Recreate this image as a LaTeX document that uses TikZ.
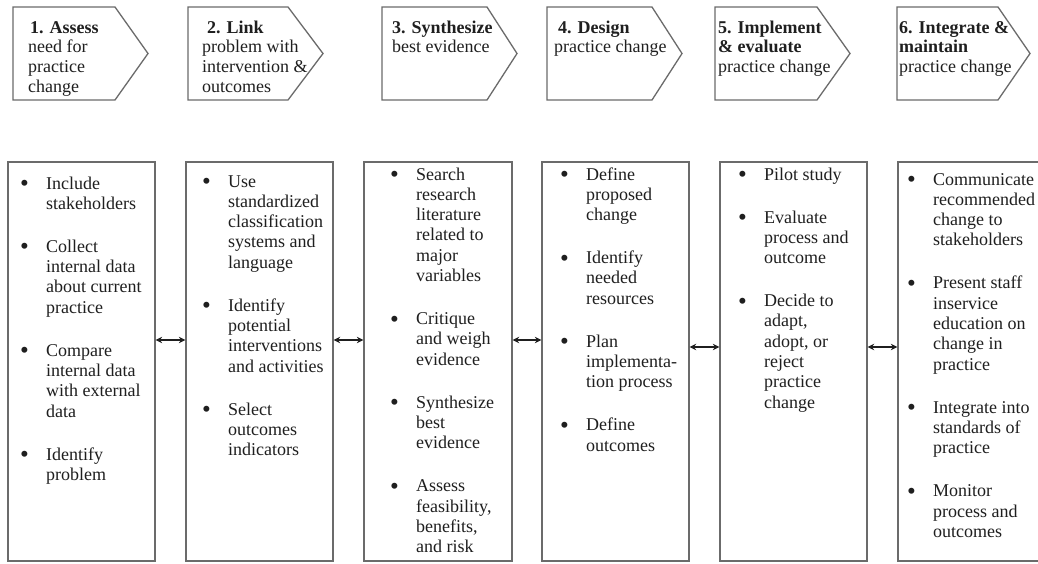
\documentclass[tikz,border=0pt]{standalone}
\usepackage{fontspec}
\setmainfont{Liberation Serif}
\usepackage{array}
\usetikzlibrary{arrows.meta}
\definecolor{ln}{gray}{0.42}
\definecolor{tx}{gray}{0.12}
\newcommand\bul{\raisebox{-2.6pt}{\fontsize{25}{25}\selectfont\textbullet}}
\newcommand\hdr[1]{\fontsize{18}{19.8}\selectfont\begin{tabular}[t]{@{}l@{}}#1\end{tabular}}
\newcommand\lst[1]{\fontsize{18}{20.3}\selectfont\begin{tabular}[t]{@{}p{26pt}@{}l@{}}#1\end{tabular}}
\newcommand\gap{\\[22.7pt]}
\newcommand\pent[3]{\draw[pentline] (#1,7) -- (#2,7) -- (#3,53.5) -- (#2,100) -- (#1,100) -- cycle;}
\begin{document}
\begin{tikzpicture}[x=1pt,y=-1pt,
  pentline/.style={draw=ln, line width=1.3pt, line join=miter},
  box/.style={draw=ln, line width=1.3pt, inner sep=0pt, minimum height=399pt},
  txt/.style={anchor=base west, inner sep=0pt, text=tx},
  conn/.style={{Stealth[length=6.5pt,width=6.5pt]}-{Stealth[length=6.5pt,width=6.5pt]}, line width=1.1pt, draw=tx}]
\useasboundingbox[fill=white] (0,0) rectangle (1038,563);

% header pentagons
\pent{13}{115}{148}
\pent{188}{288}{323}
\pent{382}{487}{517}
\pent{547}{652}{682}
\pent{715}{817}{850}
\pent{897}{998}{1030}

% header texts
\node[txt] (h1) at (28,33) {\hdr{\hspace{2pt}\textbf{1. Assess}\\ need for\\ practice\\ change}};
\node[txt] (h2) at (202,33) {\hdr{\hspace{5pt}\textbf{2. Link}\\ problem with\\ intervention \&\\ outcomes}};
\node[txt] (h3) at (392,33) {\hdr{\textbf{3. Synthesize}\\ best evidence}};
\node[txt] (h4) at (554,33) {\hdr{\hspace{4pt}\textbf{4. Design}\\ practice change}};
\node[txt] (h5) at (718,33) {\hdr{\textbf{5. Implement}\\ \textbf{\& evaluate}\\ practice change}};
\node[txt] (h6) at (899,33) {\hdr{\textbf{6. Integrate \&}\\ \textbf{maintain}\\ practice change}};

% boxes
\node[box, minimum width=147pt] (b1) at (81.5,361.5) {};
\node[box, minimum width=147pt] (b2) at (259.5,361.5) {};
\node[box, minimum width=148pt] (b3) at (438,361.5) {};
\node[box, minimum width=147pt] (b4) at (615.5,361.5) {};
\node[box, minimum width=147pt] (b5) at (793.5,361.5) {};
\node[box, minimum width=143pt] (b6) at (969.5,361.5) {};

% lists
\node[txt] (t1) at (20,189) {\lst{%
\bul & Include\\ & stakeholders\gap
\bul & Collect\\ & internal data\\ & about current\\ & practice\gap
\bul & Compare\\ & internal data\\ & with external\\ & data\gap
\bul & Identify\\ & problem}};
\node[txt] (t2) at (202,187) {\lst{%
\bul & Use\\ & standardized\\ & classification\\ & systems and\\ & language\gap
\bul & Identify\\ & potential\\ & interventions\\ & and activities\gap
\bul & Select\\ & outcomes\\ & indicators}};
\node[txt] (t3) at (390,180) {\lst{%
\bul & Search\\ & research\\ & literature\\ & related to\\ & major\\ & variables\gap
\bul & Critique\\ & and weigh\\ & evidence\gap
\bul & Synthesize\\ & best\\ & evidence\gap
\bul & Assess\\ & feasibility,\\ & benefits,\\ & and risk}};
\node[txt] (t4) at (560,180) {\lst{%
\bul & Define\\ & proposed\\ & change\gap
\bul & Identify\\ & needed\\ & resources\gap
\bul & Plan\\ & implementa-\\ & tion process\gap
\bul & Define\\ & outcomes}};
\node[txt] (t5) at (738,180) {\lst{%
\bul & Pilot study\gap
\bul & Evaluate\\ & process and\\ & outcome\gap
\bul & Decide to\\ & adapt,\\ & adopt, or\\ & reject\\ & practice\\ & change}};
\node[txt] (t6) at (907,185) {\lst{%
\bul & Communicate\\ & recommended\\ & change to\\ & stakeholders\gap
\bul & Present staff\\ & inservice\\ & education on\\ & change in\\ & practice\gap
\bul & Integrate into\\ & standards of\\ & practice\gap
\bul & Monitor\\ & process and\\ & outcomes}};

% connectors
\draw[conn] ([yshift=21.5pt]b1.east) -- ([yshift=21.5pt]b2.west);
\draw[conn] ([yshift=21.5pt]b2.east) -- ([yshift=21.5pt]b3.west);
\draw[conn] ([yshift=21.5pt]b3.east) -- ([yshift=21.5pt]b4.west);
\draw[conn] ([yshift=14.5pt]b4.east) -- ([yshift=14.5pt]b5.west);
\draw[conn] ([yshift=14.5pt]b5.east) -- ([yshift=14.5pt]b6.west);
\end{tikzpicture}
\end{document}
